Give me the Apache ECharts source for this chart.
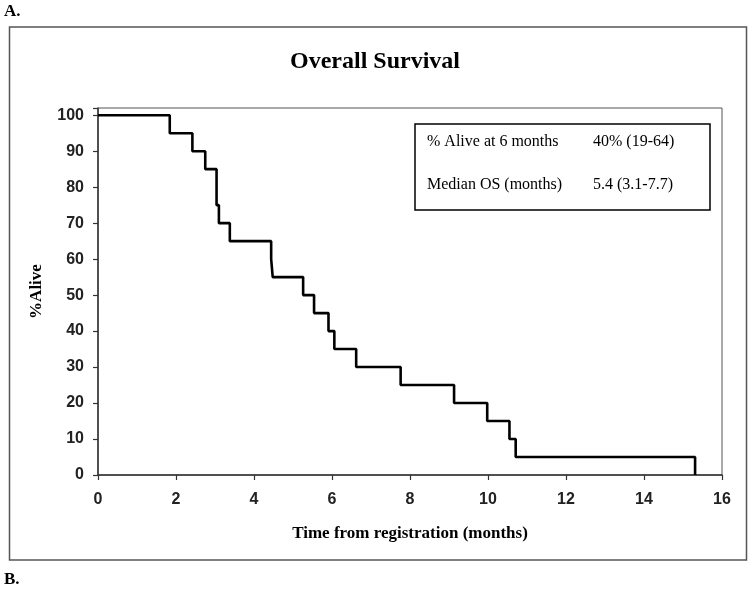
<!DOCTYPE html>
<html>
<head>
<meta charset="utf-8">
<script src="https://cdn.jsdelivr.net/npm/echarts@6/dist/echarts.min.js"></script>
<style>html,body{margin:0;padding:0;background:#fff;}#chart{width:750px;height:589px;}</style>
</head>
<body>
<div id="chart"></div>
<script>
// Kaplan-Meier step points: time (months) and % alive after the event
const times = [0, 1.84, 2.42, 2.75, 3.04, 3.10, 3.38, 4.44, 4.48, 5.26, 5.54, 5.91, 6.06, 6.62, 7.76, 9.13, 9.98, 10.55, 10.71, 15.31];
const survival = [100, 95, 90, 85, 75, 70, 65, 60, 55, 50, 45, 40, 35, 30, 25, 20, 15, 10, 5, 0];
const xTicks = [0, 2, 4, 6, 8, 10, 12, 14, 16];
const yTicks = [0, 10, 20, 30, 40, 50, 60, 70, 80, 90, 100];
const statLabels = ['% Alive at 6 months', 'Median OS (months)'];
const statValues = ['40% (19-64)', '5.4 (3.1-7.7)'];

const serif = '"Liberation Serif", "Times New Roman", serif';
const sans = '"Liberation Sans", Arial, sans-serif';

const chart = echarts.init(document.getElementById('chart'));
const option = {
  backgroundColor: '#fff',
  animation: false,
  title: {
    text: 'Overall Survival',
    left: 'center',
    top: 50,
    padding: [0, 0, 0, 8],
    textStyle: { fontFamily: serif, fontWeight: 'bold', fontSize: 24, color: '#000' }
  },
  grid: {
    left: 98, right: 28, top: 108, bottom: 114,
    show: true, borderColor: '#555', borderWidth: 1, backgroundColor: '#fff'
  },
  xAxis: {
    type: 'value', min: xTicks[0], max: xTicks[xTicks.length - 1], interval: 2,
    name: 'Time from registration (months)', nameLocation: 'middle', nameGap: 50,
    nameTextStyle: { fontFamily: serif, fontWeight: 'bold', fontSize: 17, color: '#000' },
    axisLine: { lineStyle: { color: '#333', width: 1.5 } },
    axisTick: { show: true, inside: false, length: 5, lineStyle: { color: '#333', width: 1.2 } },
    axisLabel: { margin: 17, fontFamily: sans, fontWeight: 'bold', fontSize: 16, color: '#222' },
    splitLine: { show: false }
  },
  yAxis: {
    type: 'value', min: 0, max: 102, interval: 10,
    name: '%Alive', nameLocation: 'middle', nameGap: 53, nameRotate: 90,
    nameTextStyle: { fontFamily: serif, fontWeight: 'bold', fontSize: 17, color: '#000' },
    axisLine: { show: true, lineStyle: { color: '#333', width: 1.5 } },
    axisTick: { show: true, inside: false, length: 5, lineStyle: { color: '#333', width: 1.2 } },
    axisLabel: {
      margin: 14, fontFamily: sans, fontWeight: 'bold', fontSize: 16, color: '#222',
      formatter: v => (yTicks.indexOf(v) >= 0 ? String(v) : '')
    },
    splitLine: { show: false }
  },
  series: [{
    type: 'line',
    step: 'end',
    symbol: 'none',
    data: times.map((t, i) => [t, survival[i]]),
    lineStyle: { color: '#000', width: 2.6 },
    z: 5
  }],
  graphic: [
    { type: 'rect', z: -1, shape: { x: 9.5, y: 27, width: 737, height: 533 },
      style: { fill: 'none', stroke: '#555', lineWidth: 1.5 } },
    { type: 'rect', z: 10, shape: { x: 415, y: 124, width: 295, height: 86 },
      style: { fill: '#fff', stroke: '#000', lineWidth: 1.5 } },
    { type: 'text', z: 11, x: 427, y: 142, style: { text: statLabels[0], font: '16px ' + serif, fill: '#000', verticalAlign: 'middle' } },
    { type: 'text', z: 11, x: 593, y: 142, style: { text: statValues[0], font: '16px ' + serif, fill: '#000', verticalAlign: 'middle' } },
    { type: 'text', z: 11, x: 427, y: 185, style: { text: statLabels[1], font: '16px ' + serif, fill: '#000', verticalAlign: 'middle' } },
    { type: 'text', z: 11, x: 593, y: 185, style: { text: statValues[1], font: '16px ' + serif, fill: '#000', verticalAlign: 'middle' } },
    { type: 'text', x: 4, y: 12, style: { text: 'A.', font: 'bold 17px ' + serif, fill: '#000', verticalAlign: 'middle' } },
    { type: 'text', x: 4, y: 580, style: { text: 'B.', font: 'bold 17px ' + serif, fill: '#000', verticalAlign: 'middle' } }
  ]
};
chart.setOption(option);
</script>
</body>
</html>
